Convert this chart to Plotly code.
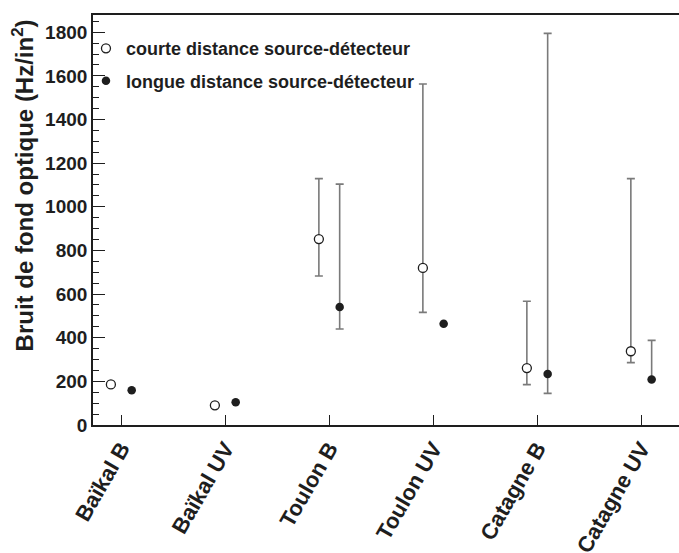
import plotly.graph_objects as go

categories = ["Baïkal B", "Baïkal UV", "Toulon B", "Toulon UV", "Catagne B", "Catagne UV"]
cat_index = [0, 1, 2, 3, 4, 5]

short_vals = [186, 90, 852, 720, 261, 338]
short_hi = [None, None, 1129, 1563, 567, 1129]
short_lo = [None, None, 683, 516, 185, 286]

long_vals = [159, 104, 541, 464, 234, 209]
long_hi = [None, None, 1104, None, 1795, 388]
long_lo = [None, None, 440, None, 145, 209]

y_title = "Bruit de fond optique (Hz/in<sup>2</sup>)"

offset = 0.1

def errs(vals, hi, lo):
    plus, minus = [], []
    for v, h, l in zip(vals, hi, lo):
        if h is None:
            plus.append(None); minus.append(None)
        else:
            plus.append(h - v); minus.append(v - l)
    return plus, minus

sp, sm = errs(short_vals, short_hi, short_lo)
lp, lm = errs(long_vals, long_hi, long_lo)

FONT = "Liberation Sans, Arial, Helvetica, sans-serif"
ERRC = "#7a7a7a"
INK = "#1e1e1e"

fig = go.Figure()
fig.add_trace(go.Scatter(
    x=[i - offset for i in cat_index], y=short_vals, mode="markers",
    name="courte distance source-détecteur", legendgroup="a",
    marker=dict(symbol="circle", size=9, color="white", line=dict(color=INK, width=1.3)),
    error_y=dict(type="data", symmetric=False, array=sp, arrayminus=sm,
                 color=ERRC, thickness=1.6, width=4),
))
fig.add_trace(go.Scatter(
    x=[i + offset for i in cat_index], y=long_vals, mode="markers",
    name="longue distance source-détecteur", legendgroup="b",
    marker=dict(symbol="circle", size=8.5, color=INK, line=dict(color=INK, width=0)),
    error_y=dict(type="data", symmetric=False, array=lp, arrayminus=lm,
                 color=ERRC, thickness=1.6, width=4),
))

fig.add_annotation(
    text=y_title, xref="paper", yref="paper", x=-0.119, y=0.585,
    xanchor="center", yanchor="middle", textangle=-90, showarrow=False,
    font=dict(size=24, family=FONT, color=INK, weight="bold"),
)

fig.update_layout(
    width=679, height=553,
    margin=dict(l=93, r=0, t=15, b=128),
    paper_bgcolor="white", plot_bgcolor="white",
    font=dict(family=FONT, color=INK),
    showlegend=True,
    legend=dict(x=-0.012, y=0.963, xanchor="left", yanchor="top",
                bgcolor="rgba(0,0,0,0)", font=dict(size=18, family=FONT, color=INK, weight="bold"),
                tracegroupgap=6, itemwidth=30),
    xaxis=dict(
        automargin=False,
        range=[-0.272, 5.363], tickmode="array", tickvals=cat_index, ticktext=categories,
        tickangle=-60, ticks="inside", ticklen=10, tickwidth=1.3, tickcolor=INK,
        showline=True, linecolor=INK, linewidth=1.6, mirror=True,
        showgrid=False, zeroline=False,
        tickfont=dict(size=22, family=FONT, color=INK, weight="bold"),
    ),
    yaxis=dict(
        automargin=False,
        range=[0, 1879], tickmode="linear", tick0=0, dtick=200,
        ticks="inside", ticklen=12, tickwidth=1.3, tickcolor=INK,
        minor=dict(dtick=50, ticks="inside", ticklen=6, tickwidth=1.3, tickcolor=INK),
        showline=True, linecolor=INK, linewidth=1.6, mirror=False,
        showgrid=False, zeroline=False,
        tickfont=dict(size=19, family=FONT, color=INK, weight="bold"),
    ),
)

fig.write_html("out.html", config={"displayModeBar": False},
               post_script="document.body.style.margin='0';document.body.style.overflow='hidden';")
